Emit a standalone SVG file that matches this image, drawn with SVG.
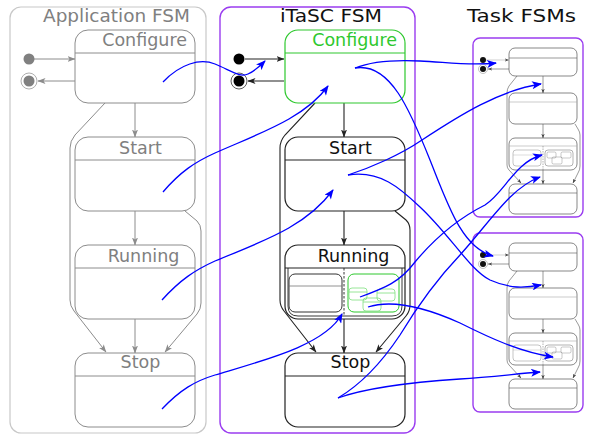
<svg xmlns="http://www.w3.org/2000/svg" width="600" height="444" viewBox="0 0 600 444">
<defs>
<style>
.t{font-family:"DejaVu Sans",sans-serif;font-size:17.5px}
.ttl{font-family:"DejaVu Sans",sans-serif;font-size:18px;text-anchor:middle}
.gbox{fill:#fff;stroke:#8c8c8c;stroke-width:1}
.gl{fill:none;stroke:#8c8c8c;stroke-width:1}
.kbox{fill:#fff;stroke:#222;stroke-width:1.2}
.kl{fill:none;stroke:#222;stroke-width:1.1}
.grn{fill:#fff;stroke:#2ec82e;stroke-width:1.2}
.lgrn{fill:none;stroke:#7ee07e;stroke-width:0.8}
.tbox{fill:#fff;stroke:#555;stroke-width:0.7}
.tl{fill:none;stroke:#555;stroke-width:0.6}
.pur{fill:none;stroke:#9a3cf0;stroke-width:1.4}
.blue{fill:none;stroke:#0000ff;stroke-width:1.3;marker-end:url(#ab)}
</style>
<marker id="ab" viewBox="0 0 10 8" refX="9" refY="4" markerWidth="11" markerHeight="8" markerUnits="userSpaceOnUse" orient="auto"><path d="M0,0 L10,4 L0,8 L2.5,4 z" fill="#0000ff"/></marker>
<marker id="ak" viewBox="0 0 8 6" refX="7.5" refY="3" markerWidth="8" markerHeight="6" markerUnits="userSpaceOnUse" orient="auto"><path d="M0,0 L8,3 L0,6 L2,3 z" fill="#222"/></marker>
<marker id="ag" viewBox="0 0 8 6" refX="7.5" refY="3" markerWidth="8" markerHeight="6" markerUnits="userSpaceOnUse" orient="auto"><path d="M0,0 L8,3 L0,6 L2,3 z" fill="#8c8c8c"/></marker>
<marker id="at" viewBox="0 0 8 6" refX="7.5" refY="3" markerWidth="4.5" markerHeight="3.5" markerUnits="userSpaceOnUse" orient="auto"><path d="M0,0 L8,3 L0,6 L2,3 z" fill="#444"/></marker>
<g id="taskfsm">
<rect x="473" y="38" width="110" height="179" rx="7" class="pur"/>
<path class="tl" d="M517,76 L509,86 Q507,89 507,93 L507,165 Q507,168 509,170 L521,183" marker-end="url(#at)"/>
<path class="tl" d="M575,124 L578,129 Q580,132 580,135 L580,166 Q580,170 578,173 L573,183" marker-end="url(#at)"/>
<rect x="509" y="48" width="68" height="28" rx="6" class="tbox"/>
<line x1="509" y1="58" x2="577" y2="58" class="tl"/>
<rect x="509" y="93" width="68" height="31" rx="6" class="tbox"/>
<line x1="509" y1="102" x2="577" y2="102" stroke="#aaa" stroke-width="0.6"/>
<rect x="509" y="138" width="68" height="32" rx="6" class="tbox"/>
<line x1="509" y1="146" x2="577" y2="146" stroke="#aaa" stroke-width="0.6"/>
<rect x="513" y="150" width="28" height="16" rx="3" fill="none" stroke="#888" stroke-width="0.5"/>
<line x1="513" y1="155" x2="541" y2="155" stroke="#aaa" stroke-width="0.4"/>
<rect x="545" y="150" width="28" height="16" rx="3" fill="none" stroke="#666" stroke-width="0.5"/>
<rect x="547" y="152" width="9" height="6" rx="1.5" fill="none" stroke="#777" stroke-width="0.4"/>
<rect x="561" y="152" width="10" height="6" rx="1.5" fill="none" stroke="#777" stroke-width="0.4"/>
<rect x="552" y="157" width="10" height="7" rx="1.5" fill="none" stroke="#777" stroke-width="0.4"/>
<line x1="543" y1="146" x2="543" y2="170" stroke="#666" stroke-width="0.5" stroke-dasharray="1.5,1"/>
<rect x="509" y="184" width="68" height="30" rx="6" class="tbox"/>
<line x1="509" y1="193" x2="577" y2="193" class="tl"/>
<line x1="543" y1="76" x2="543" y2="93" class="tl" marker-end="url(#at)"/>
<line x1="543" y1="124" x2="543" y2="138" class="tl" marker-end="url(#at)"/>
<line x1="543" y1="170" x2="543" y2="184" class="tl" marker-end="url(#at)"/>
<circle cx="483" cy="60" r="3" fill="#111"/>
<circle cx="483" cy="69" r="4.5" fill="#fff" stroke="#888" stroke-width="0.5"/>
<circle cx="483" cy="69" r="3" fill="#111"/>
<line x1="486" y1="60" x2="509" y2="60" stroke="#bbb" stroke-width="0.7" marker-end="url(#at)"/>
<line x1="509" y1="69" x2="488" y2="69" class="tl" marker-end="url(#at)"/>
</g>
</defs>

<!-- Application FSM -->
<g id="app-fsm">
<rect x="10" y="7" width="196" height="426" rx="11" fill="none" stroke="#c8c8c8" stroke-width="1.2"/>
<text x="116.5" y="22" class="ttl" fill="#808080" textLength="147" lengthAdjust="spacingAndGlyphs">Application FSM</text>
</g>
<g id="app-transitions">
<path class="gl" d="M105,103 L75,135 Q70,141 70,148 L70,300 Q70,306 74,311 L106,352" marker-end="url(#ag)"/>
<path class="gl" d="M185,211 L197,221 Q201,225 201,231 L201,303 Q201,309 197,314 L165,352" marker-end="url(#ag)"/>
<line x1="135" y1="103" x2="135" y2="137" class="gl" marker-end="url(#ag)"/>
<line x1="135" y1="211" x2="135" y2="245" class="gl" marker-end="url(#ag)"/>
<line x1="135" y1="319" x2="135" y2="353" class="gl" marker-end="url(#ag)"/>
<line x1="34" y1="59" x2="75" y2="59" class="gl" marker-end="url(#ag)"/>
<line x1="75" y1="81" x2="38" y2="81" class="gl" marker-end="url(#ag)"/>
</g>
<g id="app-initial"><circle cx="29" cy="59" r="5.5" fill="#808080"/></g>
<g id="app-final"><circle cx="29" cy="81" r="8" fill="#fff" stroke="#999" stroke-width="0.8"/><circle cx="29" cy="81" r="5.5" fill="#808080"/></g>
<g id="app-configure"><rect x="75" y="30" width="120" height="73" rx="13" class="gbox"/><line x1="75" y1="53" x2="195" y2="53" class="gl"/><text x="187" y="46" class="t" fill="#808080" text-anchor="end">Configure</text></g>
<g id="app-start"><rect x="75" y="137" width="120" height="74" rx="13" class="gbox"/><line x1="75" y1="160" x2="195" y2="160" class="gl"/><text x="140.5" y="154" class="t" fill="#808080" text-anchor="middle">Start</text></g>
<g id="app-running"><rect x="75" y="245" width="120" height="74" rx="13" class="gbox"/><line x1="75" y1="268" x2="195" y2="268" class="gl"/><text x="143.5" y="262" class="t" fill="#808080" text-anchor="middle">Running</text></g>
<g id="app-stop"><rect x="75" y="353" width="120" height="74" rx="13" class="gbox"/><line x1="75" y1="376" x2="195" y2="376" class="gl"/><text x="140.5" y="368" class="t" fill="#808080" text-anchor="middle">Stop</text></g>

<!-- iTaSC FSM -->
<g id="itasc-fsm">
<rect x="220" y="7" width="195" height="426" rx="11" class="pur"/>
<text x="331" y="22" class="ttl" fill="#111" textLength="102" lengthAdjust="spacingAndGlyphs">iTaSC FSM</text>
</g>
<g id="itasc-transitions">
<path class="kl" d="M315,103 L285,135 Q280,141 280,148 L280,300 Q280,306 284,311 L316,352" marker-end="url(#ak)"/>
<path class="kl" d="M395,211 L406,220 Q410,224 410,230 L410,305 Q410,311 406,316 L376,352" marker-end="url(#ak)"/>
<line x1="344" y1="103" x2="344" y2="137" class="kl" marker-end="url(#ak)"/>
<line x1="344" y1="211" x2="344" y2="245" class="kl" marker-end="url(#ak)"/>
<line x1="344" y1="316" x2="344" y2="353" class="kl" marker-end="url(#ak)"/>
<line x1="245" y1="59" x2="284" y2="59" class="kl" marker-end="url(#ak)"/>
<line x1="284" y1="81" x2="248" y2="81" class="kl" marker-end="url(#ak)"/>
</g>
<g id="itasc-initial"><circle cx="239" cy="59" r="5.5" fill="#000"/></g>
<g id="itasc-final"><circle cx="239" cy="81" r="8" fill="#fff" stroke="#333" stroke-width="0.8"/><circle cx="239" cy="81" r="5.5" fill="#000"/></g>
<g id="itasc-configure"><rect x="285" y="30" width="120" height="73" rx="13" class="grn"/><line x1="285" y1="53" x2="405" y2="53" stroke="#2ec82e" stroke-width="1.2"/><text x="397" y="46" class="t" fill="#2ec82e" text-anchor="end">Configure</text></g>
<g id="itasc-start"><rect x="285" y="137" width="120" height="74" rx="13" class="kbox"/><line x1="285" y1="160" x2="405" y2="160" class="kl"/><text x="350.5" y="154" class="t" fill="#111" text-anchor="middle">Start</text></g>
<g id="itasc-running">
<rect x="285" y="245" width="120" height="74" rx="13" class="kbox"/>
<line x1="285" y1="268" x2="405" y2="268" class="kl"/>
<path d="M288,268 L288,306 Q288,316 298,316 L392,316 Q402,316 402,306 L402,268" fill="none" stroke="#222" stroke-width="0.9"/>
<text x="353.5" y="262" class="t" fill="#111" text-anchor="middle">Running</text>
<line x1="344" y1="268" x2="344" y2="316" stroke="#222" stroke-width="0.9" stroke-dasharray="2.5,1.5"/>
<rect x="289" y="274" width="53" height="38" rx="6" fill="none" stroke="#333" stroke-width="1"/>
<line x1="289" y1="286" x2="342" y2="286" stroke="#777" stroke-width="0.8"/>
<rect x="348" y="274" width="51" height="38" rx="6" fill="none" stroke="#2ec82e" stroke-width="1"/>
<rect x="349" y="288" width="18" height="12" rx="3" class="lgrn"/>
<line x1="349" y1="292" x2="367" y2="292" class="lgrn"/>
<rect x="377" y="289" width="18" height="12" rx="3" class="lgrn"/>
<line x1="377" y1="293" x2="395" y2="293" class="lgrn"/>
<rect x="363" y="298" width="18" height="13" rx="3" class="lgrn"/>
<line x1="363" y1="302" x2="381" y2="302" class="lgrn"/>
</g>
<g id="itasc-stop"><rect x="285" y="353" width="120" height="74" rx="13" class="kbox"/><line x1="285" y1="376" x2="405" y2="376" class="kl"/><text x="350.5" y="368" class="t" fill="#111" text-anchor="middle">Stop</text></g>

<!-- Task FSMs -->
<text x="521.5" y="22" class="ttl" fill="#111" textLength="109" lengthAdjust="spacingAndGlyphs">Task FSMs</text>
<g id="task-fsm-1"><use href="#taskfsm"/></g>
<g id="task-fsm-2"><use href="#taskfsm" transform="translate(0,195)"/></g>

<!-- blue connectors -->
<g id="connectors">
<path class="blue" d="M163,82 C180,64 200,58 215,64 C230,70 240,78 248,74 C255,71 260,66 265,61"/>
<path class="blue" d="M163,192 C180,172 195,162 215,153 C260,133 305,118 328,86"/>
<path class="blue" d="M162,300 C180,280 195,270 215,261 C260,242 305,228 333,190"/>
<path class="blue" d="M162,409 C180,390 195,381 215,375 C265,360 325,345 342,314"/>
<path class="blue" d="M355,68 C375,60 400,60 420,61 C445,62 470,66 496,63"/>
<path class="blue" d="M355,68 C390,62 410,110 430,160 C448,205 462,248 493,256"/>
<path class="blue" d="M348,175 C370,168 400,155 422,140 C460,115 500,90 541,84"/>
<path class="blue" d="M348,175 C380,170 400,188 420,207 C450,235 470,270 490,280 C510,289 525,288 541,285"/>
<path class="blue" d="M360,297 C385,288 400,282 415,262 C440,232 465,215 485,205 C505,192 515,162 542,155"/>
<path class="blue" d="M368,307 C390,300 420,305 460,323 C490,338 520,352 553,357"/>
<path class="blue" d="M338,398 C360,385 382,362 400,335 C420,302 440,276 460,255 C490,222 510,188 540,177"/>
<path class="blue" d="M338,398 C360,390 400,383 460,379 C490,377 515,374 540,372"/>
</g>
</svg>
